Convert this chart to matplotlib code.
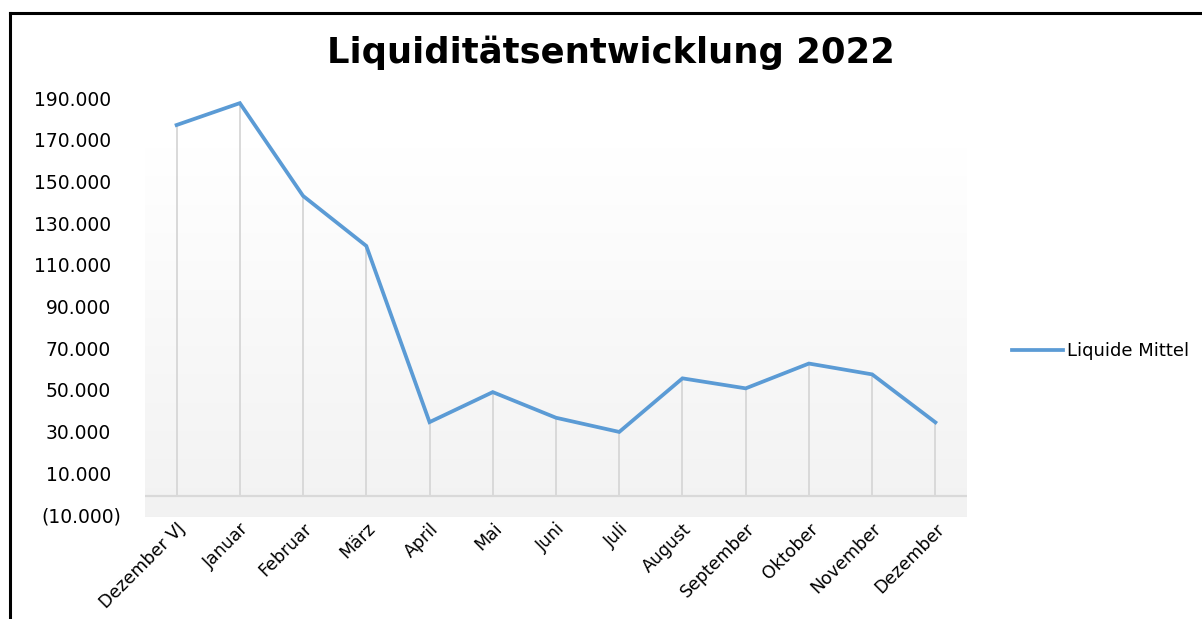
import numpy as np
import matplotlib
matplotlib.use("Agg")
import matplotlib.pyplot as plt
from matplotlib.lines import Line2D
from matplotlib.transforms import blended_transform_factory

# Data
months = ["Dezember VJ", "Januar", "Februar", "März", "April", "Mai", "Juni",
          "Juli", "August", "September", "Oktober", "November", "Dezember"]
liquide_mittel = [178000, 188500, 144000, 120000, 35500, 49900, 37600,
                  30800, 56500, 51700, 63600, 58400, 35400]
y_ticks = [-10000, 10000, 30000, 50000, 70000, 90000, 110000, 130000,
           150000, 170000, 190000]


def fmt(v):
    s = "{:,.0f}".format(abs(v)).replace(",", ".")
    return "(" + s + ")" if v < 0 else s


plt.rcParams["font.family"] = "DejaVu Sans"

fig = plt.figure(figsize=(12.02, 6.19), dpi=100)
ax = fig.add_axes([145 / 1202, 1 - 517 / 619, 822 / 1202, 417 / 619])
ax.set_facecolor("none")

x = np.arange(len(months))
ax.set_xlim(-0.5, len(months) - 0.5)
ax.set_ylim(-10000, 190000)

# gradient background of the plot area
grad = np.linspace(0.949, 1.0, 256).reshape(-1, 1)
ax.imshow(np.dstack([grad, grad, grad]), extent=(-0.5, len(months) - 0.5, -10000, 167000),
          aspect="auto", origin="lower", zorder=0)

# zero line and drop lines
ax.axhline(0, color="#d9d9d9", lw=1.6, zorder=1)
ax.vlines(x, 0, liquide_mittel, color="#d9d9d9", lw=1.4, zorder=1)

line, = ax.plot(x, liquide_mittel, color="#5b9bd5", lw=2.7, solid_joinstyle="miter",
                label="Liquide Mittel", zorder=3)

for s in ax.spines.values():
    s.set_visible(False)
ax.tick_params(length=0)

ax.set_yticks(y_ticks)
ax.set_yticklabels([])
trans = blended_transform_factory(fig.transFigure, ax.transData)
for v in y_ticks:
    xr = (121 if v < 0 else 111) / 1202
    ax.text(xr, v, fmt(v), transform=trans, ha="right", va="center", fontsize=13.5)

ax.set_xticks(x)
ax.set_xticklabels(months, rotation=45, ha="right", rotation_mode="anchor", fontsize=12.5)
ax.tick_params(axis="x", pad=2)

fig.text(611 / 1202, 1 - 53 / 619, "Liquiditätsentwicklung 2022", ha="center", va="center",
         fontsize=25.5, fontweight="bold")

fig.legend(handles=[line], loc="center left",
           bbox_to_anchor=(996 / 1202, 1 - 351 / 619), frameon=False,
           fontsize=13, handlelength=2.8, handletextpad=0.25)

# chart border
fig.add_artist(Line2D([10 / 1202, 10 / 1202], [0, 1 - 13 / 619], color="black", lw=2.2,
                      transform=fig.transFigure))
fig.add_artist(Line2D([10 / 1202, 1], [1 - 13 / 619, 1 - 13 / 619], color="black", lw=2.2,
                      transform=fig.transFigure))

fig.savefig("out.png", dpi=100)
